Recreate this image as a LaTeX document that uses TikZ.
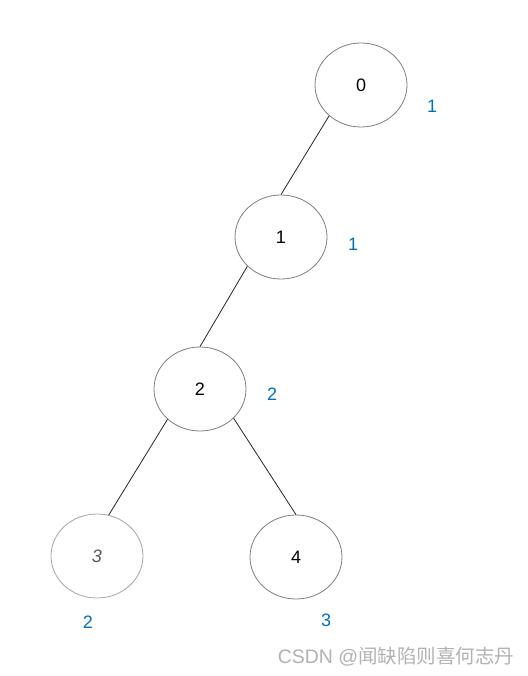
\documentclass[tikz,border=0pt]{standalone}
\usepackage{fontspec}
\setmainfont{Liberation Sans}
\newfontfamily\cjk{Noto Sans CJK SC}
\usetikzlibrary{shapes.geometric}
\definecolor{lblblue}{RGB}{0,112,192}
\definecolor{bordergray}{RGB}{128,128,128}
\begin{document}
\begin{tikzpicture}[x=1pt,y=-1pt,
  treenode/.style={ellipse,draw=bordergray,line width=0.8pt,minimum width=92pt,minimum height=84pt,inner sep=0pt,font=\fontsize{18}{20}\selectfont},
  edge/.style={draw=black!85,line width=0.8pt},
  lbl/.style={text=lblblue,font=\fontsize{18}{20}\selectfont,inner sep=0pt}]
\useasboundingbox[fill=white] (0,0) rectangle (527,676);
\node[treenode] (n0) at (361,85) {0};
\node[treenode] (n1) at (281,237) {1};
\node[treenode] (n2) at (200,389) {2};
\node[treenode,draw=bordergray!70,text=black!65] (n3) at (97,556) {\textit{3}};
\node[treenode] (n4) at (296,557) {4};
\draw[edge] (n0.224) -- (n1.north);
\draw[edge] (n1.221) -- (n2.north);
\draw[edge] (n2.223) -- (n3.74);
\draw[edge] (n2.-41.5) -- (n4.north);
\node[lbl] (l0) at (432,106) {1};
\node[lbl] (l1) at (353,244) {1};
\node[lbl] (l2) at (272,394) {2};
\node[lbl] (l3) at (88,622) {2};
\node[lbl] (l4) at (326,620) {3};
\node[text=black!30,font=\fontsize{19.5}{22}\selectfont,inner sep=0pt] (wm) at (396,657) {CSDN @{\cjk 闻缺陷则喜何志丹}};
\end{tikzpicture}
\end{document}
